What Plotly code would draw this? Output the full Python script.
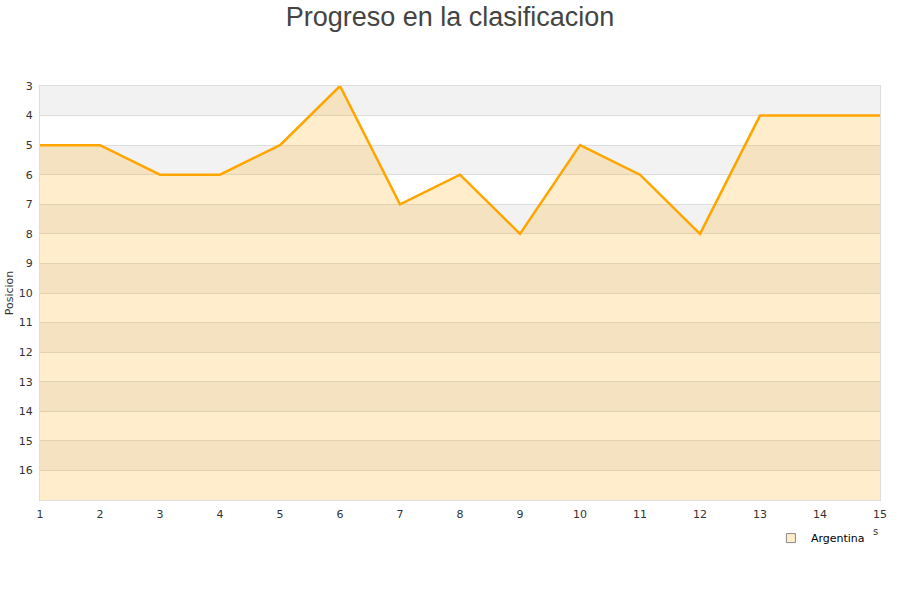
import plotly.graph_objects as go

jornadas = list(range(1, 16))
posiciones = [5, 5, 6, 6, 5, 3, 7, 6, 8, 5, 6, 8, 4, 4, 4]
y_ticks = list(range(3, 17))
y_min, y_max = 3, 17

fig = go.Figure()

# baseline (bottom of reversed axis)
fig.add_trace(go.Scatter(x=jornadas, y=[y_max] * len(jornadas), mode="lines",
                         line=dict(width=0, color="rgba(0,0,0,0)"),
                         showlegend=False, hoverinfo="skip"))
fig.add_trace(go.Scatter(x=jornadas, y=posiciones, mode="lines", name="Argentina",
                         line=dict(color="#ffa500", width=2.5),
                         fill="tonexty", fillcolor="rgba(255,165,0,0.2)",
                         showlegend=False))
# legend entry
fig.add_trace(go.Scatter(x=[None], y=[None], mode="markers", name="Argentina",
                         marker=dict(symbol="square", size=9, color="#ffedcc",
                                     line=dict(color="#888", width=1))))

shapes = []
for v in range(y_min, y_max):
    if (v - y_min) % 2 == 0:
        shapes.append(dict(type="rect", xref="paper", yref="y", x0=0, x1=1,
                           y0=v, y1=v + 1, fillcolor="#f2f2f2",
                           line=dict(width=0), layer="below"))

fig.update_layout(
    width=900, height=600,
    paper_bgcolor="white", plot_bgcolor="white",
    margin=dict(l=40, r=20, t=86, b=100, autoexpand=False),
    title=dict(text="Progreso en la clasificacion", x=0.5, xanchor="center",
               y=0.973, yanchor="middle",
               font=dict(family="Liberation Sans, Arial, sans-serif", size=27, color="#444")),
    font=dict(family="DejaVu Sans, sans-serif", size=11, color="#333"),
    shapes=shapes,
    showlegend=True,
    legend=dict(x=0.988, xanchor="right", y=-0.092, yanchor="middle",
                bgcolor="rgba(0,0,0,0)", font=dict(size=11, color="#000")),
    xaxis=dict(range=[1, 15], tickvals=jornadas, showgrid=False, zeroline=False,
               showline=True, linecolor="#ddd", mirror=True, ticks="",
               ticklabelstandoff=4,
               automargin=False, tickfont=dict(size=11, color="#333")),
    yaxis=dict(range=[y_max, y_min], tickvals=y_ticks, showgrid=True,
               gridcolor="#ddd", zeroline=False, showline=True, linecolor="#ddd",
               mirror=True, ticks="", ticklabelstandoff=4, automargin=False,
               title=dict(text="Posicion", standoff=2, font=dict(size=11, color="#333")),
               tickfont=dict(size=11, color="#333")),
)
fig.add_annotation(x=1.0, y=-0.094, xref="paper", yref="paper", text="s",
                   showarrow=False, font=dict(size=10, color="#333"))

fig.write_html("out.html", config={"displayModeBar": False},
               post_script="document.body.style.margin='0';document.body.style.padding='0';")
